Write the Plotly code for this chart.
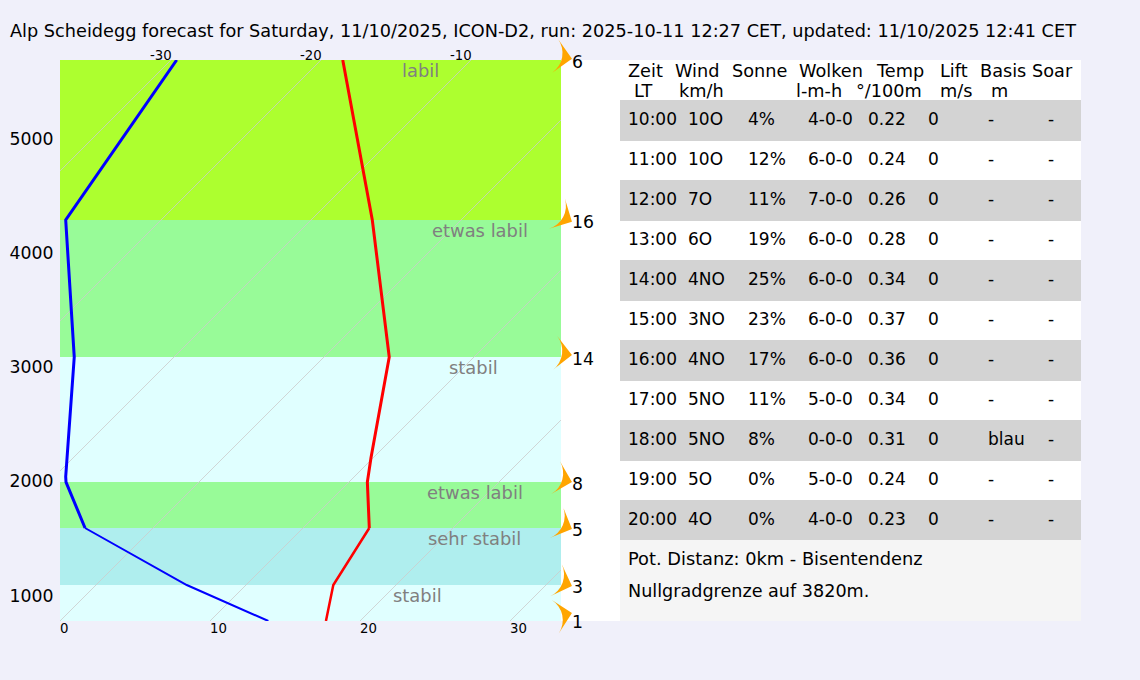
import plotly.graph_objects as go

# ---------- data ----------
title_text = ("Alp Scheidegg forecast for Saturday, 11/10/2025, ICON-D2, run: "
              "2025-10-11 12:27 CET, updated: 11/10/2025 12:41 CET")

alt_ticks = [1000, 2000, 3000, 4000, 5000]
temp_ticks = [0, 10, 20, 30]
top_temp_ticks = [-30, -20, -10]
isotherms = [-30, -20, -10, 0, 10, 20, 30]

band_bottom = [777, 1092, 1591, 1993, 3087, 4287]
band_top = [1092, 1591, 1993, 3087, 4287, 5687]
band_color = ["#E0FFFF", "#AFEEEE", "#98FB98", "#E0FFFF", "#98FB98", "#ADFF2F"]

band_label = ["stabil", "sehr stabil", "etwas labil", "stabil", "etwas labil", "labil"]
band_label_x = [23.8, 27.63, 27.67, 27.55, 28.0, 24.0]
band_label_alt = [998, 1499, 1898, 2996, 4195, 5591]

temp_alt = [777, 1092, 1591, 1993, 2204, 3087, 4287, 5687]
temp_val = [17.73, 18.22, 20.62, 20.49, 20.73, 21.95, 20.82, 18.85]
dew_alt = [777, 1092, 1591, 1993, 2040, 3087, 4287, 5687]
dew_val = [13.89, 8.45, 1.67, 0.40, 0.38, 0.95, 0.38, 7.78]

wind_speed = [1, 3, 5, 8, 14, 16, 6]
wind_label_alt = [768, 1074, 1573, 1976, 3070, 4269, 5669]
wind_tip_alt = [847, 1083, 1582, 1993, 3105, 4272, 5697]
wind_angle = [78, 110, 113, 105, 97, 118, 100]

hdr1 = ["Zeit", "Wind", "Sonne", "Wolken", "Temp", "Lift", "Basis", "Soar"]
hdr2 = ["LT", "km/h", "", "l-m-h", "°/100m", "m/s", "m", ""]
col_time = ["10:00", "11:00", "12:00", "13:00", "14:00", "15:00", "16:00", "17:00", "18:00", "19:00", "20:00"]
col_wind = ["10O", "10O", "7O", "6O", "4NO", "3NO", "4NO", "5NO", "5NO", "5O", "4O"]
col_sun = ["4%", "12%", "11%", "19%", "25%", "23%", "17%", "11%", "8%", "0%", "0%"]
col_cloud = ["4-0-0", "6-0-0", "7-0-0", "6-0-0", "6-0-0", "6-0-0", "6-0-0", "5-0-0", "0-0-0", "5-0-0", "4-0-0"]
col_temp = ["0.22", "0.24", "0.26", "0.28", "0.34", "0.37", "0.36", "0.34", "0.31", "0.24", "0.23"]
col_lift = ["0"] * 11
col_base = ["-", "-", "-", "-", "-", "-", "-", "-", "blau", "-", "-"]
col_soar = ["-"] * 11
footer = ["Pot. Distanz: 0km - Bisentendenz", "Nullgradgrenze auf 3820m."]

# ---------- layout constants ----------
W, H = 1140, 680
FONT = "DejaVu Sans"
TXT = "#000000"
X_MAX = 33.4
Y_MIN, Y_MAX = 777, 5687
PX_PER_M = 561 / (Y_MAX - Y_MIN)
SKEW = PX_PER_M / 15.0   # isotherms run at 45 degrees on screen
ARROW_X = 34.13
SPLIT = 3  # thin lower part of the profile lines


def px(x):
    return x / W


def py(y):
    return 1 - y / H


fig = go.Figure()

shapes = []
# white panel behind wind labels and table, table stripes
shapes.append(dict(type="rect", xref="paper", yref="paper", x0=px(561), x1=px(1081),
                   y0=py(60), y1=py(621), fillcolor="white", line_width=0, layer="below"))
for i in range(0, 11, 2):
    top = 100 + 40 * i
    bottom = top + (41 if i < 10 else 40)
    shapes.append(dict(type="rect", xref="paper", yref="paper", x0=px(620), x1=px(1081),
                       y0=py(top), y1=py(bottom), fillcolor="#D3D3D3", line_width=0, layer="below"))
shapes.append(dict(type="rect", xref="paper", yref="paper", x0=px(620), x1=px(1081),
                   y0=py(540), y1=py(621), fillcolor="#F5F5F5", line_width=0, layer="below"))
# stability bands
for b, t, c in zip(band_bottom, band_top, band_color):
    shapes.append(dict(type="rect", xref="x", yref="y", x0=0, x1=X_MAX, y0=b, y1=t,
                       fillcolor=c, line_width=0, layer="below"))

for T in isotherms:
    fig.add_trace(go.Scatter(x=[T, T + (Y_MAX - Y_MIN) * SKEW], y=[Y_MIN, Y_MAX], mode="lines",
                             line=dict(color="#CCCCCC", width=0.8), hoverinfo="skip", showlegend=False))

fig.add_trace(go.Scatter(x=temp_val[:SPLIT], y=temp_alt[:SPLIT], mode="lines",
                         line=dict(color="#FF0000", width=2.5), showlegend=False, name="Temperatur"))
fig.add_trace(go.Scatter(x=temp_val[SPLIT - 1:], y=temp_alt[SPLIT - 1:], mode="lines",
                         line=dict(color="#FF0000", width=3), showlegend=False, name="Temperatur"))
fig.add_trace(go.Scatter(x=dew_val[:SPLIT], y=dew_alt[:SPLIT], mode="lines",
                         line=dict(color="#0000FF", width=2), showlegend=False, name="Taupunkt"))
fig.add_trace(go.Scatter(x=dew_val[SPLIT - 1:], y=dew_alt[SPLIT - 1:], mode="lines",
                         line=dict(color="#0000FF", width=3), showlegend=False, name="Taupunkt"))

# wind arrows sit right of the plot, on an invisible wider axis pair with the same scale
fig.add_trace(go.Scatter(x=[ARROW_X] * len(wind_speed), y=wind_tip_alt, mode="markers",
                         xaxis="x2", yaxis="y2",
                         marker=dict(symbol="arrow-wide", size=24, angle=wind_angle, color="#FFA500",
                                     line=dict(width=0)),
                         showlegend=False, name="Wind"))

ann = []


def text_px(x, y, s, size=17.0, color=TXT, anchor="left"):
    ann.append(dict(xref="paper", yref="paper", x=px(x - 1), y=py(y), text=s, showarrow=False,
                    xanchor=anchor, yanchor="middle", borderpad=0, font=dict(family=FONT, size=size, color=color)))


text_px(10, 31, title_text, size=17.7)

for s, x_val, a_val in zip(band_label, band_label_x, band_label_alt):
    ann.append(dict(xref="x", yref="y", x=x_val, y=a_val, text=s, showarrow=False, xanchor="center",
                    yanchor="middle", font=dict(family=FONT, size=17.9, color="#808080")))

for T in temp_ticks:
    ann.append(dict(xref="x", yref="paper", x=T, y=py(628.5), text=str(T), showarrow=False, xanchor="left",
                    yanchor="middle", borderpad=0, xshift=-1, font=dict(family=FONT, size=13.3, color=TXT)))
for T in top_temp_ticks:
    ann.append(dict(xref="x", yref="paper", x=T + (Y_MAX - Y_MIN) * SKEW, y=py(55), text=str(T), showarrow=False,
                    xanchor="right", yanchor="middle", borderpad=0, xshift=2, font=dict(family=FONT, size=13.3, color=TXT)))

for s, a_val in zip(wind_speed, wind_label_alt):
    ann.append(dict(xref="paper", yref="y2", x=px(571), y=a_val, text=str(s), showarrow=False, xanchor="left",
                    yanchor="middle", borderpad=0, font=dict(family=FONT, size=17.3, color=TXT)))

for s, x in zip(hdr1, [628, 675, 732, 799, 876, 940, 980, 1032]):
    text_px(x, 71, s, size=17.7)
for s, x in zip(hdr2, [634, 679, 732, 796, 856, 940, 991, 1032]):
    if s:
        text_px(x, 91, s, size=17.7)

columns = [col_time, col_wind, col_sun, col_cloud, col_temp, col_lift, col_base, col_soar]
col_x = [628, 688, 748, 808, 868, 928, 988, 1048]
for col, x in zip(columns, col_x):
    for i, s in enumerate(col):
        text_px(x, 119 + 40 * i, s, size=17.0)

text_px(628, 558.5, footer[0], size=17.8)
text_px(628, 591, footer[1], size=17.6)

fig.update_layout(
    width=W, height=H, margin=dict(l=0, r=0, t=0, b=0),
    paper_bgcolor="#F0F0FA", plot_bgcolor="rgba(0,0,0,0)",
    showlegend=False, shapes=shapes, annotations=ann,
    xaxis=dict(domain=[px(60), px(561)], range=[0, X_MAX], showgrid=False, zeroline=False,
               showticklabels=False, ticks="", showline=False),
    yaxis=dict(domain=[py(621), py(60)], range=[Y_MIN, Y_MAX], showgrid=False, zeroline=False,
               tickvals=alt_ticks, ticktext=[str(a) for a in alt_ticks], ticks="outside", ticklen=2,
               tickcolor="rgba(0,0,0,0)", tickfont=dict(family=FONT, size=17.3, color=TXT), showline=False),
    xaxis2=dict(domain=[px(60), px(620)], range=[0, 560 / 15.0], visible=False, anchor="y2"),
    yaxis2=dict(domain=[0, 1], range=[Y_MIN - 59 / PX_PER_M, Y_MIN + 621 / PX_PER_M], visible=False, anchor="x2"),
)

fig.write_html("out.html", config=dict(displayModeBar=False),
               post_script="document.body.style.margin='0';document.body.style.overflow='hidden';")
